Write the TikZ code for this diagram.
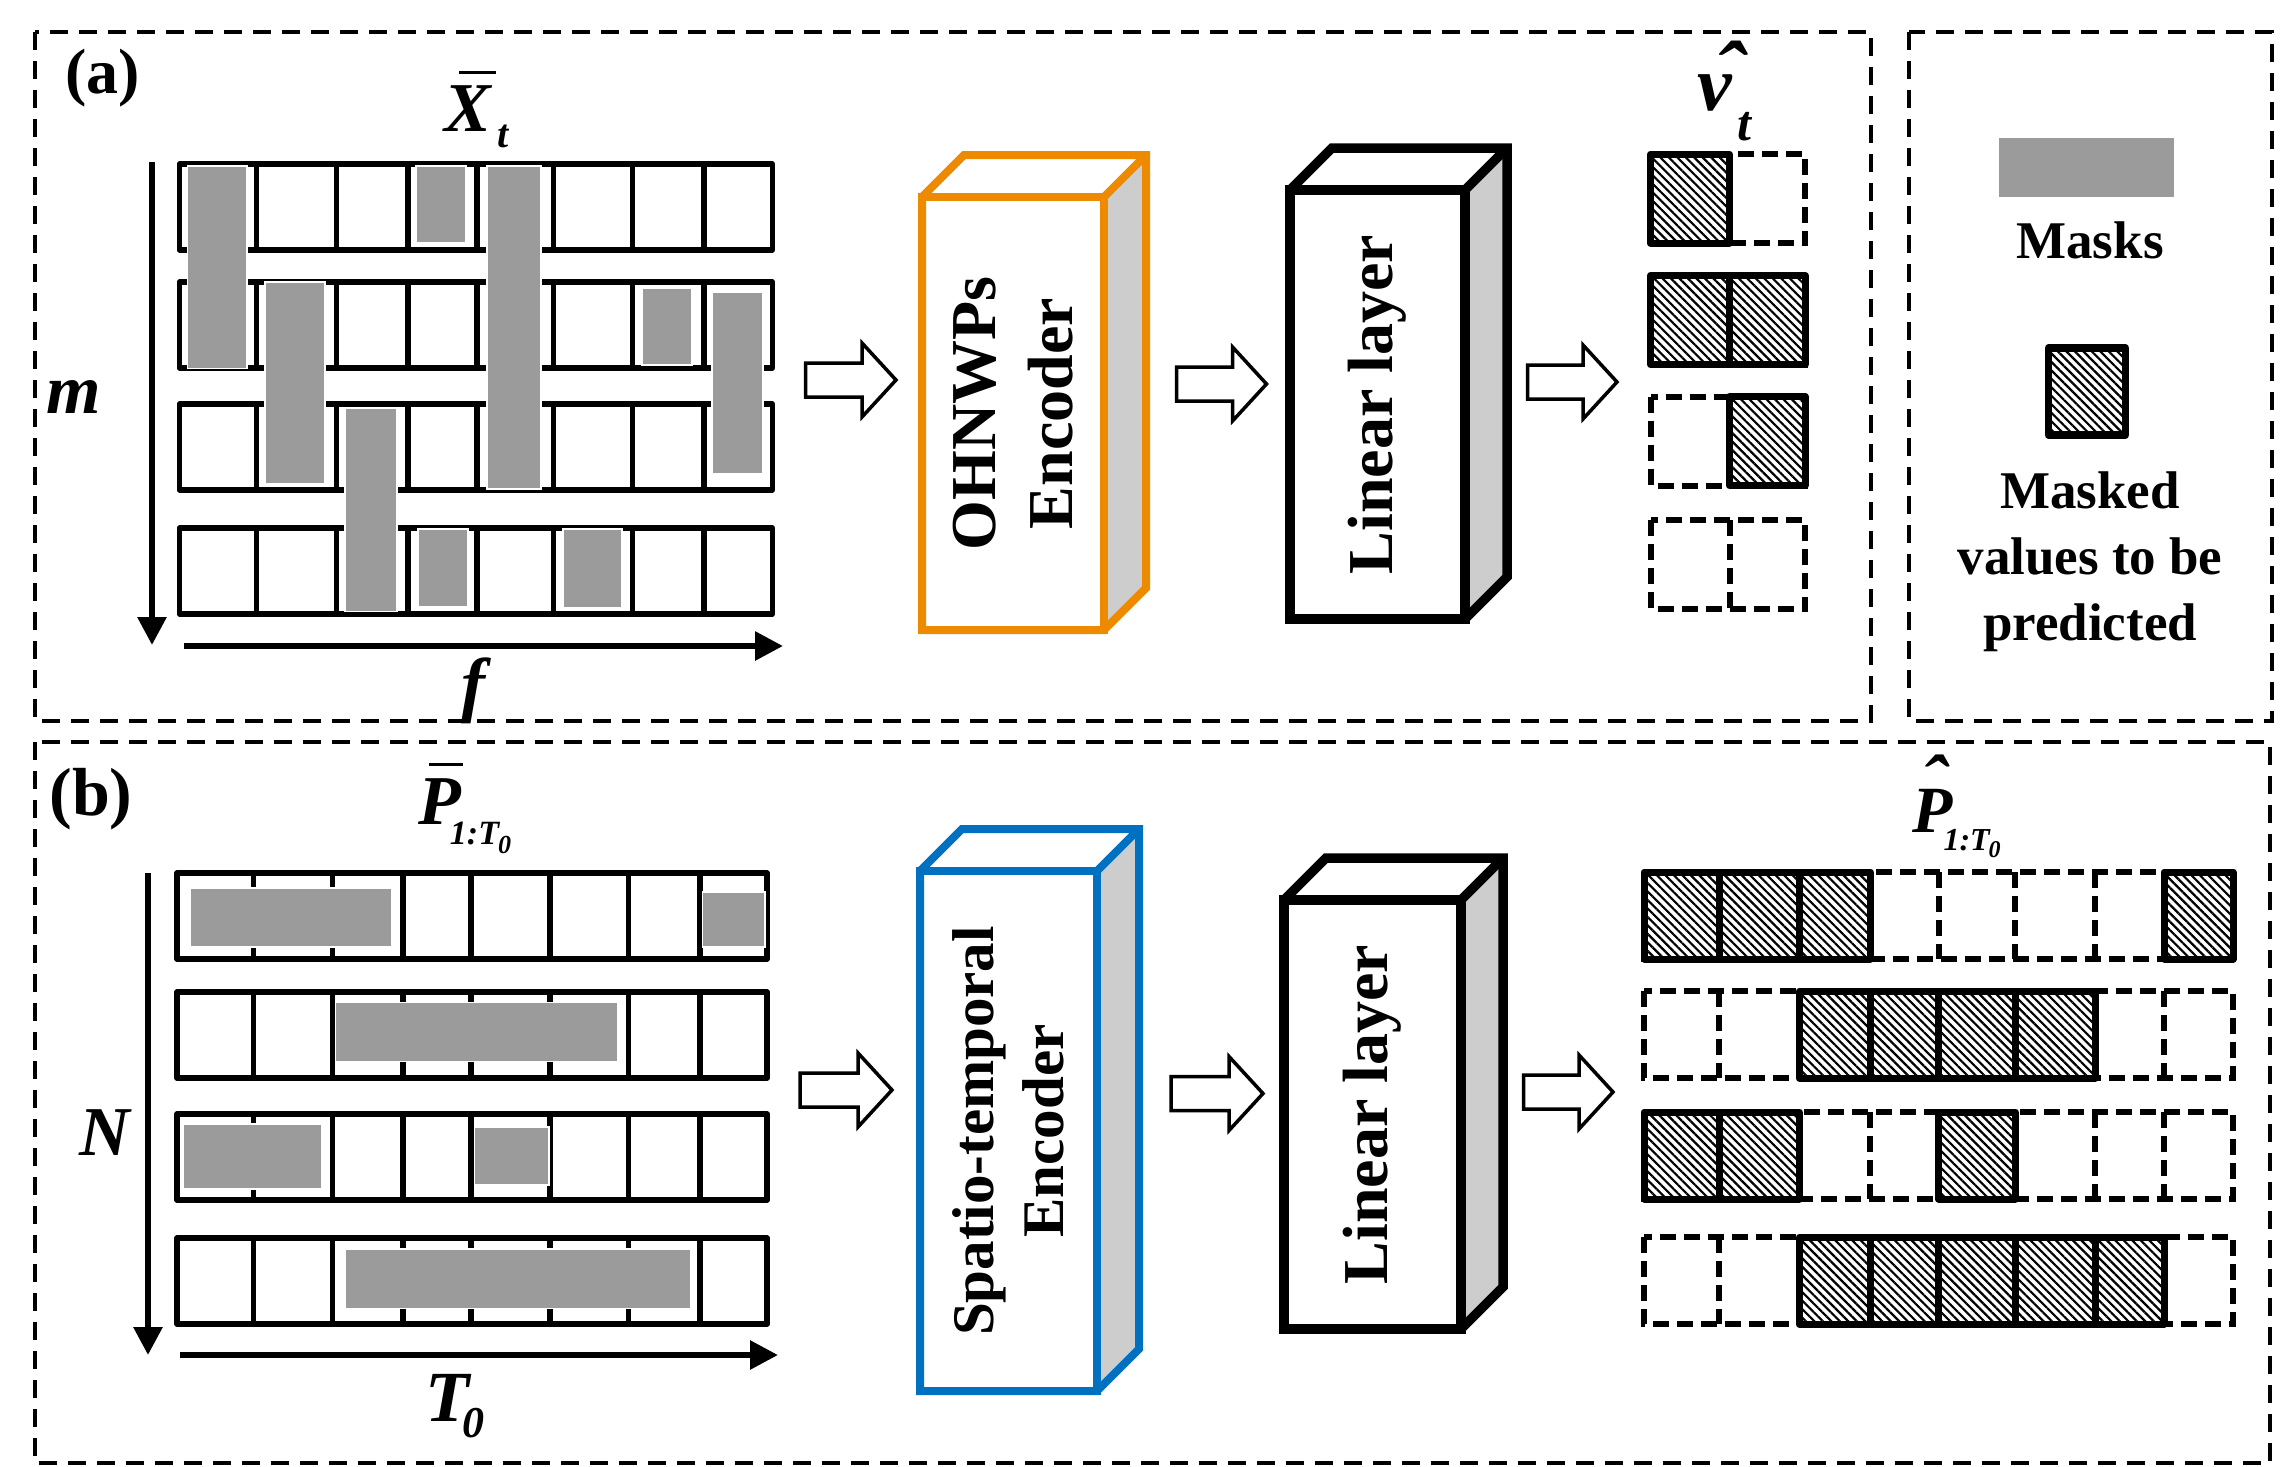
\documentclass[tikz,border=0pt]{standalone}
\usepackage{fontspec}
\setmainfont{Liberation Serif}
\usetikzlibrary{arrows.meta,calc,patterns.meta}
\definecolor{maskgray}{HTML}{9B9B9B}
\definecolor{sidegray}{HTML}{CDCDCD}
\definecolor{encorange}{HTML}{EE8A00}
\definecolor{encblue}{HTML}{0070C0}
\newcommand\mysz[2]{\fontsize{#1pt}{#2pt}\selectfont}
\newcommand\bi{\bfseries\itshape}
% #1 node name, #2 colour, #3 line width
\newcommand\boxfaces[3]{%
  \fill[white] (#1.north west) -- ++(42,-42) -- ($(#1.north east)+(42,-42)$) -- (#1.north east) -- cycle;
  \fill[sidegray] (#1.north east) -- ++(42,-42) -- ($(#1.south east)+(42,-42)$) -- (#1.south east) -- cycle;
  \draw[draw=#2, line width=#3, line join=miter] (#1.north west) rectangle (#1.south east);
  \draw[draw=#2, line width=#3, line join=miter] (#1.south west) -- (#1.north west) -- ++(42,-42)
     -- ($(#1.north east)+(42,-42)$) -- ($(#1.south east)+(42,-42)$) -- (#1.south east) -- cycle;
  \draw[draw=#2, line width=#3] (#1.north east) -- ($(#1.north east)+(42,-42)$);}
\newcommand\fatarrow[2]{%
  \draw[fat] ($(#1)+(0,-17)$) -- ($(#2)+(-34,-17)$) -- ($(#2)+(-34,-37)$) -- (#2)
    -- ($(#2)+(-34,37)$) -- ($(#2)+(-34,17)$) -- ($(#1)+(0,17)$) -- cycle;}
\tikzset{
  frame/.style={draw, dash pattern=on 18pt off 11pt, line width=3.5pt},
  cellrow/.style={draw, line width=5.5pt, line join=round},
  divider/.style={draw, line width=5.5pt},
  mask/.style={fill=maskgray, draw=white, line width=1.2pt},
  axis/.style={line width=6pt, -{Triangle[width=28pt,length=28pt]}},
  fat/.style={draw, fill=white, line width=3.5pt, line join=miter},
  hatchcell/.style={draw, line width=7pt, line join=round, preaction={fill=white},
     pattern={Lines[angle=-45,distance=6pt,line width=2.2pt]}},
  dashcell/.style={draw, line width=6pt, dash pattern=on 16pt off 8pt},
  face/.style={fill=white, inner sep=0pt, outer sep=0pt},
  blocktext/.style={rotate=90, align=center, inner sep=0pt},
  sym/.style={inner sep=0pt, font=\mysz{70}{70}\bi},
}
\begin{document}
\begin{tikzpicture}[x=1pt,y=-1pt]
\useasboundingbox (0,0) rectangle (2287,1467);
\fill[white] (0,0) rectangle (2287,1467);

% ---------------- frames
\draw[frame] (35,32) rectangle (1871,721);
\draw[frame] (1909,32) rectangle (2272,721);
\draw[frame] (35,742) rectangle (2270,1463);

\node[anchor=base, inner sep=0pt, font=\mysz{64}{64}\bfseries] (labA) at (102.5,93) {(a)};
\node[anchor=base, inner sep=0pt, font=\mysz{68}{68}\bfseries] (labB) at (91,815) {(b)};

% ---------------- grid (a)
\foreach \t in {164,282,404,528}{
  \draw[cellrow] (179.5,\t) rectangle (772.3,\t+86);
  \foreach \c in {256.6,336.7,408.2,477,553.6,632.7,704}
    \draw[divider] (\c,\t) -- (\c,\t+86);
}
\draw[mask] (187.8,166) rectangle (247,368.7);
\draw[mask] (265,282) rectangle (325,484);
\draw[mask] (345,408.6) rectangle (397,611.6);
\draw[mask] (416,166) rectangle (466,243);
\draw[mask] (487,166) rectangle (541,489);
\draw[mask] (642,288) rectangle (692,365);
\draw[mask] (712,292) rectangle (763,474);
\draw[mask] (418,529) rectangle (468,607);
\draw[mask] (563,529) rectangle (622,608);

\coordinate (mTop) at (152,162); \coordinate (mEnd) at (152,645);
\draw[axis] (mTop) -- (mEnd);
\coordinate (fStart) at (184,646); \coordinate (fEnd) at (783,646);
\draw[axis] (fStart) -- (fEnd);

\node[anchor=base west, sym] (Xbar) at (444,131)
  {\makebox[0pt][l]{\kern15pt\rule[57pt]{37pt}{3.5pt}}X\kern7pt\raisebox{-16pt}{\mysz{40}{40}t}};
\node[anchor=base west, sym] (mlab) at (46,413) {m};
\node[sym, font=\mysz{72}{72}\bi] (flab) at (473,691) {f};

% ---------------- encoder (a)
\node[face, minimum width=182pt, minimum height=433pt] (encA) at (1013,413.5) {};
\boxfaces{encA}{encorange}{8pt}
\node[blocktext, font=\mysz{64}{77}\bfseries] (encAt) at (encA.center) {OHNWPs\\Encoder};

% ---------------- linear layer (a)
\node[face, minimum width=175pt, minimum height=429pt] (linA) at (1377.5,404.5) {};
\boxfaces{linA}{black}{9.5pt}
\node[blocktext, font=\mysz{64}{77}\bfseries] (linAt) at (linA.center) {Linear layer};

% ---------------- fat arrows (a)
\coordinate (gridAout) at (805.6,380); \coordinate (encAin) at (896,380);
\fatarrow{gridAout}{encAin}
\coordinate (encAout) at (1176.7,384); \coordinate (linAin) at (1266.5,384);
\fatarrow{encAout}{linAin}
\coordinate (linAout) at (1527.5,382); \coordinate (vAin) at (1617,382);
\fatarrow{linAout}{vAin}

% ---------------- output (a)
\foreach \t in {154,275.5,396.5,520}{
  \draw[dashcell] (1650.5,\t) rectangle (1805,\t+89);
  \draw[dashcell] (1729.5,\t) -- (1729.5,\t+89);
}
\draw[hatchcell] (1650.5,154) rectangle (1729.5,243);
\draw[hatchcell] (1650.5,275.5) rectangle (1729.5,364.5);
\draw[hatchcell] (1729.5,275.5) rectangle (1805,364.5);
\draw[hatchcell] (1729.5,396.5) rectangle (1805,485.5);

\node[anchor=base west, inner sep=0pt, font=\mysz{78}{78}\bi] (vhat) at (1697,110)
  {\makebox[0pt][l]{\kern17pt\raisebox{6pt}{\mysz{90}{90}\char"02C6}}v\kern6pt\raisebox{-30pt}{\mysz{50}{50}t}};

% ---------------- legend
\fill[maskgray] (1999,138) rectangle (2174,196.5);
\node[anchor=base, inner sep=0pt, font=\mysz{53}{53}\bfseries] (maskTxt) at (2090,258) {Masks};
\draw[hatchcell, line width=7.5pt] (2048.5,348) rectangle (2125.5,435);
\node[align=center, inner sep=0pt, font=\mysz{53}{66}\bfseries] (predTxt) at (2090,562) {Masked\\values to be\\predicted};

% ---------------- grid (b)
\foreach \t in {873,992,1114,1238}{
  \draw[cellrow] (177.2,\t) rectangle (767.2,\t+86);
  \foreach \c in {253.6,332.7,403,471,550,628.6,700}
    \draw[divider] (\c,\t) -- (\c,\t+86);
}
\draw[mask] (190.8,888) rectangle (391.8,947);
\draw[mask] (702.6,892) rectangle (765,947);
\draw[mask] (335.7,1002.6) rectangle (617.9,1061.4);
\draw[mask] (183,1124) rectangle (322,1189);
\draw[mask] (474.5,1127) rectangle (549,1185);
\draw[mask] (345,1249) rectangle (691,1308.6);

\coordinate (nTop) at (148,873); \coordinate (nEnd) at (148,1355);
\draw[axis] (nTop) -- (nEnd);
\coordinate (tStart) at (180,1355); \coordinate (tEnd) at (778,1355);
\draw[axis] (tStart) -- (tEnd);

\node[anchor=base west, sym] (Pbar) at (418,824)
  {\makebox[0pt][l]{\kern11pt\rule[58pt]{34pt}{3.5pt}}P\kern-11pt\raisebox{-20pt}{\mysz{34}{34}1:T\kern-1pt\raisebox{-9pt}{\mysz{26}{26}0}}};
\node[anchor=base west, sym] (Nlab) at (79,1155) {N};
\node[anchor=base west, sym, font=\mysz{72}{72}\bi] (Tlab) at (425,1421) {T\kern-7pt\raisebox{-16pt}{\mysz{44}{44}0}};

% ---------------- encoder (b)
\node[face, minimum width=177pt, minimum height=520pt] (encB) at (1008.5,1131) {};
\boxfaces{encB}{encblue}{8pt}
\node[blocktext, font=\mysz{59}{70}\bfseries] (encBt) at (encB.center) {Spatio-temporal\\Encoder};

% ---------------- linear layer (b)
\node[face, minimum width=177pt, minimum height=429pt] (linB) at (1372.5,1114.5) {};
\boxfaces{linB}{black}{9.5pt}
\node[blocktext, font=\mysz{64}{77}\bfseries] (linBt) at (linB.center) {Linear layer};

% ---------------- fat arrows (b)
\coordinate (gridBout) at (800,1090); \coordinate (encBin) at (892,1090);
\fatarrow{gridBout}{encBin}
\coordinate (encBout) at (1171,1093.5); \coordinate (linBin) at (1263,1093.5);
\fatarrow{encBout}{linBin}
\coordinate (linBout) at (1523.5,1092); \coordinate (pBin) at (1613,1092);
\fatarrow{linBout}{pBin}

% ---------------- output (b)
\foreach \t in {872,991,1112,1237}{
  \draw[dashcell] (1644,\t) rectangle (2233,\t+87);
  \foreach \c in {1719.2,1799.4,1870.4,1938.7,2015.4,2095.2,2164}
    \draw[dashcell] (\c,\t) -- (\c,\t+87);
}
% row 1
\foreach \a/\b in {1644/1719.2,1719.2/1799.4,1799.4/1870.4,2164/2233}
  \draw[hatchcell] (\a,872) rectangle (\b,959);
% row 2
\foreach \a/\b in {1799.4/1870.4,1870.4/1938.7,1938.7/2015.4,2015.4/2095.2}
  \draw[hatchcell] (\a,991) rectangle (\b,1078);
% row 3
\foreach \a/\b in {1644/1719.2,1719.2/1799.4,1938.7/2015.4}
  \draw[hatchcell] (\a,1112) rectangle (\b,1199);
% row 4
\foreach \a/\b in {1799.4/1870.4,1870.4/1938.7,1938.7/2015.4,2015.4/2095.2,2095.2/2164}
  \draw[hatchcell] (\a,1237) rectangle (\b,1324);

\node[anchor=base west, inner sep=0pt, font=\mysz{66}{66}\bi] (Phat) at (1912,832)
  {\makebox[0pt][l]{\kern9pt\raisebox{24pt}{\mysz{76}{76}\char"02C6}}P\kern-9pt\raisebox{-18pt}{\mysz{32}{32}1:T\kern-1pt\raisebox{-7pt}{\mysz{24}{24}0}}};
\end{tikzpicture}
\end{document}
